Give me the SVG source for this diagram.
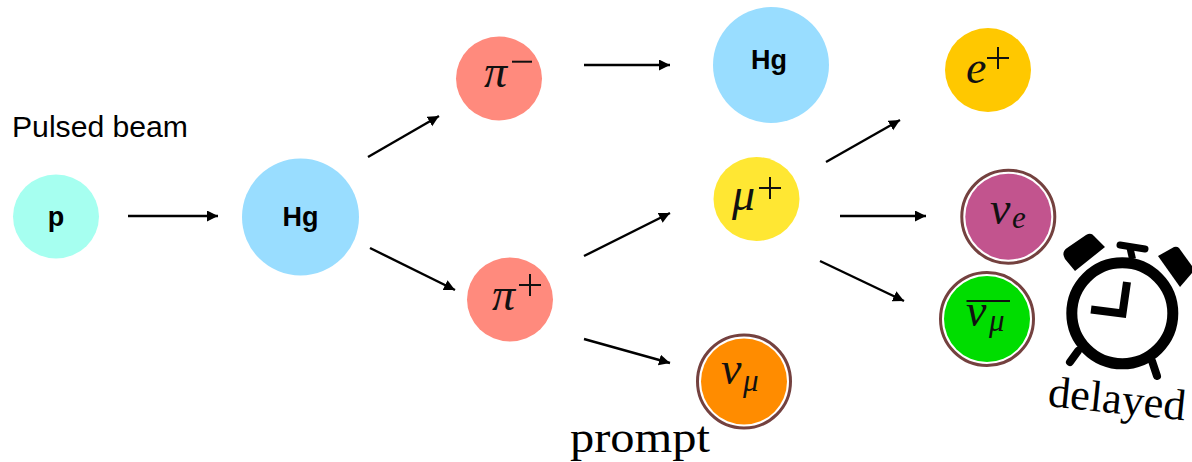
<svg xmlns="http://www.w3.org/2000/svg" width="1192" height="462" viewBox="0 0 1192 462">
<style>
.sans{font-family:"Liberation Sans",Arial,sans-serif;fill:#000}
.b{font-weight:700;font-size:27px;text-anchor:middle}
.m{font-family:"Liberation Serif","Times New Roman",serif;font-style:italic;fill:#111}
.mb{font-size:46px}
.ms{font-size:31px}
.op{stroke:#111;stroke-width:2;fill:none}
.g{font-family:"Liberation Serif","Times New Roman",serif;fill:#000}
.ring{fill:none;stroke:#74413f;stroke-width:3}
.c{stroke:#000;stroke-width:2.400;fill:none;marker-end:url(#a)}
.k{stroke:#000;fill:none}
</style>
<defs>
<marker id="a" markerUnits="userSpaceOnUse" markerWidth="13" markerHeight="12" refX="11" refY="5.500" orient="auto"><path d="M0 0L11 5.500L0 11Z" fill="#000"/></marker>
</defs>
<rect width="1192" height="462" fill="#fff"/>
<g id="connectors">
<path class="c" d="M128 216H218"/>
<path class="c" d="M368 157L439 116"/>
<path class="c" d="M370 248L455 290"/>
<path class="c" d="M584 65H670"/>
<path class="c" d="M584 256L670 213"/>
<path class="c" d="M584 339L670 363"/>
<path class="c" d="M826 162L900 120"/>
<path class="c" d="M840 216H926"/>
<path class="c" d="M820 261L904 301"/>
</g>
<g id="label-beam"><text class="sans" x="12" y="136.500" font-size="29" textLength="176" lengthAdjust="spacingAndGlyphs">Pulsed beam</text></g>
<g id="node-p"><ellipse cx="56" cy="216.500" rx="43" ry="42" fill="#a6fff0"/><text class="sans b" x="56" y="226">p</text></g>
<g id="node-hg1"><circle cx="300.500" cy="217" r="58.500" fill="#99ddff"/><text class="sans b" x="300.500" y="226">Hg</text></g>
<g id="node-pi-minus"><ellipse cx="499" cy="78.500" rx="43" ry="42" fill="#ff8a7d"/><text class="m mb" x="484" y="87">π</text><path class="op" d="M512 61.700h20"/></g>
<g id="node-hg2"><circle cx="771" cy="65" r="58" fill="#99ddff"/><text class="sans b" x="769" y="69">Hg</text></g>
<g id="node-pi-plus"><ellipse cx="510" cy="299.500" rx="43" ry="42" fill="#ff8a7d"/><text class="m mb" x="492" y="310">π</text><path class="op" d="M530 274v22M519 285h22"/></g>
<g id="node-mu"><ellipse cx="756.500" cy="199" rx="43" ry="42" fill="#ffe733"/><text class="m mb" x="732" y="210">μ</text><path class="op" d="M770 177v22M759 188h22"/></g>
<g id="node-e"><ellipse cx="988" cy="70" rx="43" ry="42" fill="#ffc800"/><text class="m mb" x="966" y="83">e</text><path class="op" d="M998 47v22M987 58h22"/></g>
<g id="node-nu-e"><circle cx="1008.300" cy="216.700" r="46.500" class="ring"/><circle cx="1008.300" cy="216.700" r="43" fill="#c2548e"/><text class="m mb" x="990" y="224">ν</text><text class="m ms" x="1012" y="228">e</text></g>
<g id="node-nu-mu-bar"><circle cx="987" cy="319" r="46.500" class="ring"/><circle cx="987" cy="319" r="43" fill="#00dd00"/><path class="op" d="M966.500 301h43.500"/><text class="m mb" x="966" y="326">ν</text><text class="m ms" x="989" y="331">μ</text></g>
<g id="node-nu-mu"><circle cx="744" cy="381.500" r="46.500" class="ring"/><circle cx="744" cy="381.500" r="43" fill="#ff8c00"/><text class="m mb" x="721" y="384">ν</text><text class="m ms" x="743" y="391">μ</text></g>
<g id="label-prompt"><text class="g" x="570" y="452" font-size="44" textLength="140" lengthAdjust="spacingAndGlyphs">prompt</text></g>
<g id="clock">
<circle cx="1122.300" cy="313.300" r="50.500" class="k" stroke-width="11"/>
<path class="k" d="M1127 282L1122.500 313.500L1091 309.500" stroke-width="8"/>
<path class="k" d="M1132.500 259L1130 248" stroke-width="7"/>
<path class="k" d="M1120 245L1145 249" stroke-width="7" stroke-linecap="round"/>
<path d="M1067 248L1086 235Q1091 232 1094 236L1105 247L1075 271L1065 259Q1061 252 1067 248Z" fill="#000"/>
<path d="M1158 256L1174 247Q1177 246 1179 248L1192 266L1192 273L1180 287Z" fill="#000"/>
<path class="k" d="M1078 351L1070 362" stroke-width="8" stroke-linecap="round"/>
<path class="k" d="M1152 361L1157 376" stroke-width="8" stroke-linecap="round"/>
</g>
<g id="label-delayed"><text class="g" transform="translate(1047 406) rotate(6)" font-size="44" textLength="138" lengthAdjust="spacingAndGlyphs">delayed</text></g>
</svg>
